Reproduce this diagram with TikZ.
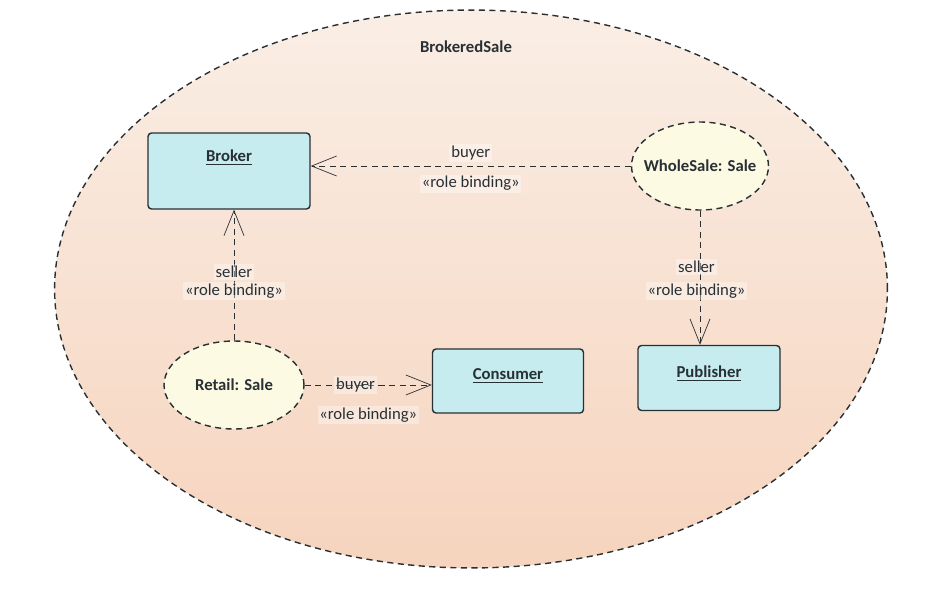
\documentclass[tikz,border=0pt]{standalone}
\usepackage{fontspec}
\setmainfont{Carlito}
\definecolor{saleback}{RGB}{250, 238, 229}
\definecolor{salepeach}{RGB}{246, 212, 190}
\definecolor{partcyan}{RGB}{198, 236, 240}
\definecolor{roleyellow}{RGB}{252, 250, 226}
\definecolor{inkdark}{RGB}{40, 48, 52}
\usetikzlibrary{arrows.meta, positioning, shapes.geometric}

\begin{document}
\begin{tikzpicture}[x=0.02cm, y=-0.02cm, font=\fontsize{9.5}{11}\selectfont, text=inkdark,
  part/.style={draw=inkdark, thick, rounded corners=2pt, fill=partcyan, text depth=0.26cm,
               minimum width=#1, minimum height=1.3cm, font=\fontsize{9.5}{11}\selectfont\bfseries},
  role/.style={ellipse, draw=inkdark, thick, dash pattern=on 3.5pt off 2.5pt, fill=roleyellow,
               minimum width=2.74cm, minimum height=1.76cm, inner xsep=-6pt, inner ysep=0pt,
               font=\fontsize{9.5}{11}\selectfont\bfseries},
  binding/.style={draw=inkdark, dash pattern=on 3.5pt off 2.5pt, -{Straight Barb[length=5mm, width=4mm]}},
  lbl/.style={fill=white, fill opacity=0.35, text opacity=1, inner sep=1pt}]

  \useasboundingbox (0,0) rectangle (925,608);

  \node[ellipse, draw=inkdark, thick, dash pattern=on 3.5pt off 2.5pt,
        top color=saleback, bottom color=salepeach,
        minimum width=16.66cm, minimum height=11.16cm] (sale) at (471,289) {};
  \node[font=\fontsize{9.5}{11}\selectfont\bfseries] (title) at (466,47) {BrokeredSale};

  \node[part=3.24cm, minimum height=1.52cm, text depth=0.6cm] (broker) at (229,171) {\underline{Broker}};
  \node[role] (whole) at (700,166) {WholeSale: Sale};
  \node[role, minimum width=2.8cm, inner xsep=0pt] (retail) at (234,385) {Retail: Sale};
  \node[part=3.02cm, minimum height=1.28cm] (consumer) at (508,381) {\underline{Consumer}};
  \node[part=2.84cm] (publisher) at (709,378) {\underline{Publisher}};

  \draw[binding] (whole.west) -- node[lbl, yshift=7.5pt] {buyer} node[lbl, yshift=-10pt] {«role binding»}
    (broker.east |- whole.west);
  \draw[binding] (retail.north) -- node[pos=0.47, lbl, yshift=4pt] {seller} node[pos=0.47, lbl, yshift=-7pt] {«role binding»}
    (broker.south -| retail.north);
  \draw[binding] (whole.south) -- node[pos=0.42, lbl, xshift=-2pt] {seller} node[pos=0.42, lbl, xshift=-2pt, yshift=-13.5pt] {«role binding»}
    (publisher.north -| whole.south);
  \draw[binding] (retail.east) -- node[pos=0.4, lbl] {buyer} node[pos=0.5, lbl, below=12pt] {«role binding»}
    (consumer.west |- retail.east);
\end{tikzpicture}
\end{document}
